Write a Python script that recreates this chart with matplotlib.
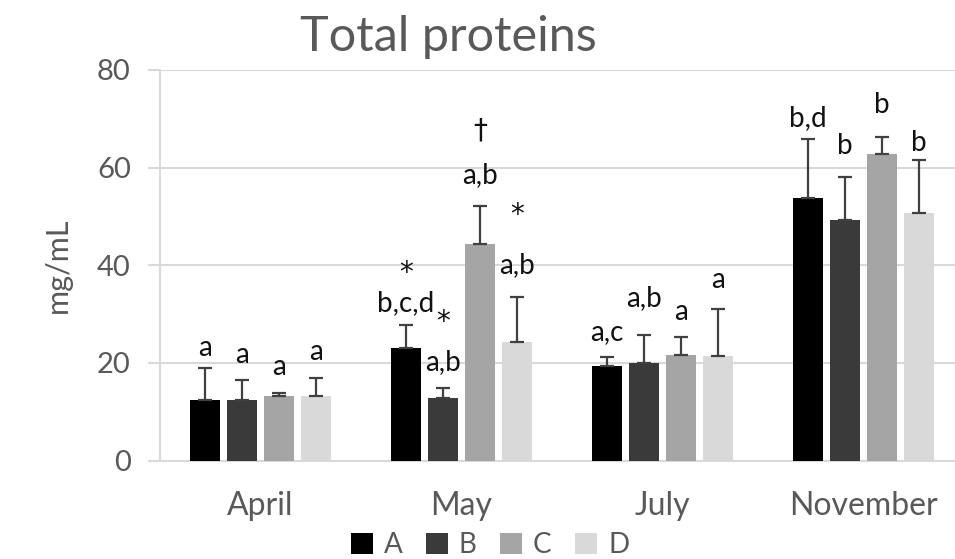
import matplotlib
matplotlib.use("Agg")
import matplotlib.pyplot as plt
import numpy as np
from matplotlib.patches import Patch

plt.rcParams['font.family'] = ['Lato', 'DejaVu Sans']

months = ["April", "May", "July", "November"]
series = ["A", "B", "C", "D"]
means = {
    "A": [12.4, 23.0, 19.4, 53.7],
    "B": [12.4, 12.9, 19.9, 49.3],
    "C": [13.3, 44.3, 21.6, 62.8],
    "D": [13.3, 24.2, 21.4, 50.8],
}
sds = {
    "A": [6.5, 4.8, 1.9, 12.1],
    "B": [4.1, 1.9, 5.9, 8.8],
    "C": [0.5, 7.8, 3.6, 3.5],
    "D": [3.7, 9.2, 9.6, 10.8],
}
letters = {
    "A": ["a", "b,c,d", "a,c", "b,d"],
    "B": ["a", "a,b", "a,b", "b"],
    "C": ["a", "a,b", "a", "b"],
    "D": ["a", "a,b", "a", "b"],
}
letter_y = {
    "A": [23.0, 32.2, 26.3, 70.2],
    "B": [21.6, 20.1, 33.2, 64.5],
    "C": [19.1, 58.4, 30.4, 72.8],
    "D": [22.2, 40.0, 36.9, 65.1],
}
# extra symbols in May: (series, symbol, y)
symbols = [("A", "*", 38.5), ("B", "*", 28.3), ("C", "\u2020", 67.6), ("D", "*", 50.2)]
colors = {"A": "#000000", "B": "#3a3a3a", "C": "#a5a5a5", "D": "#d9d9d9"}

fig = plt.figure(figsize=(9.55, 5.59), dpi=100)
ax = fig.add_axes([160/955, (559-460.5)/559, 804/955, (460.5-70)/559])

x = np.arange(len(months))
slot = 0.184
width = 0.149
grid_c = "#d9d9d9"
for j, s in enumerate(series):
    xs = x + (j - 1.5) * slot
    ax.bar(xs, means[s], width=width, color=colors[s], zorder=3)
    ax.errorbar(xs, means[s], yerr=[np.zeros(len(months)), sds[s]], fmt='none',
                ecolor="#404040", elinewidth=1.6, capsize=5, capthick=1.6, zorder=4)
    for i in range(len(months)):
        ax.text(xs[i], letter_y[s][i], letters[s][i], ha='center', va='center',
                fontsize=20, color="#111111")

for s, sym, yv in symbols:
    j = series.index(s)
    ax.text(1 + (j - 1.5) * slot, yv, sym, ha='center', va='center',
            fontsize=20, color="#111111", family=['DejaVu Sans'])

ax.set_xlim(-0.5, 3.5)
ax.set_ylim(0, 80)
ax.set_yticks([0, 20, 40, 60, 80])
ax.set_xticks(x)
ax.set_xticklabels(months)
ax.grid(axis='y', color=grid_c, linewidth=1.5, zorder=0)
ax.set_axisbelow(True)
for side in ["top", "right"]:
    ax.spines[side].set_visible(False)
ax.spines["left"].set_color(grid_c)
ax.spines["left"].set_linewidth(1.5)
ax.spines["bottom"].set_color(grid_c)
ax.spines["bottom"].set_linewidth(1.5)
ax.tick_params(axis='y', length=9, width=1.5, color=grid_c, labelsize=21,
               labelcolor="#595959", pad=12)
ax.tick_params(axis='x', length=0, labelsize=23, labelcolor="#595959", pad=22)
ax.set_ylabel("mg/mL", fontsize=22, color="#595959", labelpad=18)

fig.text(448/955, 1 - 37/559, "Total proteins", ha='center', va='center',
         fontsize=35, color="#595959")

handles = [Patch(facecolor=colors[s], edgecolor='none') for s in series]
fig.legend(handles, series, loc='center', bbox_to_anchor=(490/955, 1 - 545/559),
           ncol=4, frameon=False, fontsize=20, labelcolor="#595959",
           handlelength=0.78, handleheight=0.78, handletextpad=0.4, columnspacing=0.85,
           borderpad=0.0)

fig.savefig("out.png", dpi=100)
